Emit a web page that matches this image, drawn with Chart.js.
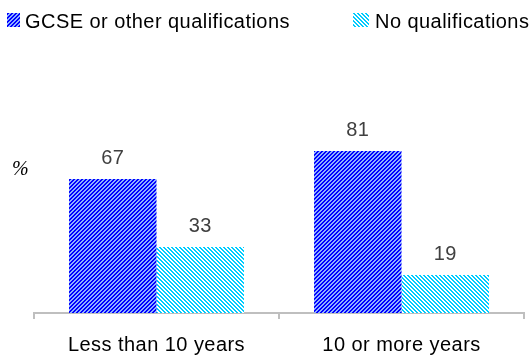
<!DOCTYPE html>
<html>
<head>
<meta charset="utf-8">
<script src="https://cdn.jsdelivr.net/npm/chart.js@4"></script>
<style>
  html, body { margin: 0; padding: 0; background: #fff; }
  #wrap { position: relative; width: 531px; height: 356px; }
  #chart { position: absolute; left: 0; top: 0; }
  .legend-item { position: absolute; top: 11px; font: 20px "Liberation Sans", Arial, sans-serif; line-height: 20px; letter-spacing: 0.45px; color: #000; white-space: nowrap; }
  .legend-item canvas { position: absolute; top: 2px; }
  .legend-item span { position: absolute; top: 0; }
  #unit { position: absolute; left: 12px; top: 157px; font: italic 20px "Liberation Serif", "Times New Roman", serif; color: #000; }
</style>
</head>
<body>
<div id="wrap">
  <canvas id="chart" width="531" height="356"></canvas>
  <div id="legend"></div>
  <div id="unit">%</div>
</div>
<script>
// Share of people by time in the UK, split by qualification level.
const categories = ["Less than 10 years", "10 or more years"];
const seriesNames = ["GCSE or other qualifications", "No qualifications"];
const gcse = [67, 81];
const noQuals = [33, 19];

const FONT = '"Liberation Sans", Arial, sans-serif';

// 4x4 diagonal hatch tile; dir 1 = "///", dir -1 = "\\\"
function hatchTile(fg, bg, dir) {
    const c = document.createElement("canvas");
    c.width = 4;
    c.height = 4;
    const g = c.getContext("2d");
    g.fillStyle = bg;
    g.fillRect(0, 0, 4, 4);
    g.fillStyle = fg;
    for (let y = 0; y < 4; y++) {
        for (let x = 0; x < 4; x++) {
            const k = dir > 0 ? (x + y) % 4 : (((x - y) % 4) + 4) % 4;
            if (k < 2) g.fillRect(x, y, 1, 1);
        }
    }
    return c;
}

const canvas = document.getElementById("chart");
const ctx = canvas.getContext("2d");
const blueTile = hatchTile("#0000ff", "#8fb0ff", 1);
const cyanTile = hatchTile("#00ccff", "#ffffff", -1);
const fills = [ctx.createPattern(blueTile, "repeat"), ctx.createPattern(cyanTile, "repeat")];

// legend row above the plot
const legendSpots = [
    { box: 7, w: 13, text: 25 },
    { box: 353, w: 16, text: 375 },
];
const legend = document.getElementById("legend");
seriesNames.forEach((name, i) => {
    const item = document.createElement("div");
    item.className = "legend-item";
    item.style.left = "0px";
    const sw = document.createElement("canvas");
    sw.width = legendSpots[i].w;
    sw.height = 14;
    sw.style.left = legendSpots[i].box + "px";
    const sg = sw.getContext("2d");
    sg.fillStyle = sg.createPattern(i === 0 ? blueTile : cyanTile, "repeat");
    sg.fillRect(0, 0, sw.width, sw.height);
    const label = document.createElement("span");
    label.style.left = legendSpots[i].text + "px";
    label.textContent = name;
    item.appendChild(sw);
    item.appendChild(label);
    legend.appendChild(item);
});

// slightly loose text spacing for everything drawn on the canvas
const spacing = {
    id: "spacing",
    beforeDraw(chart) {
        chart.ctx.letterSpacing = "0.45px";
    },
};

const valueLabels = {
    id: "valueLabels",
    afterDatasetsDraw(chart) {
        const c = chart.ctx;
        c.save();
        c.font = "20px " + FONT;
        c.fillStyle = "#404040";
        c.textAlign = "center";
        c.textBaseline = "middle";
        chart.data.datasets.forEach((ds, di) => {
            chart.getDatasetMeta(di).data.forEach((bar, i) => {
                c.fillText(String(ds.data[i]), bar.x, bar.y - 21);
            });
        });
        c.restore();
    },
};

new Chart(ctx, {
    type: "bar",
    data: {
        labels: categories,
        datasets: [
            { label: seriesNames[0], data: gcse, backgroundColor: fills[0], borderWidth: 0 },
            { label: seriesNames[1], data: noQuals, backgroundColor: fills[1], borderWidth: 0 },
        ],
    },
    options: {
        responsive: false,
        animation: false,
        events: [],
        categoryPercentage: 0.714,
        barPercentage: 1,
        layout: { padding: { left: 34, right: 7, top: 113, bottom: 0 } },
        plugins: { legend: { display: false }, tooltip: { enabled: false } },
        scales: {
            x: {
                grid: {
                    drawOnChartArea: false,
                    drawTicks: true,
                    tickLength: 6,
                    color: "#bfbfbf",
                    lineWidth: 2,
                },
                border: { display: true, color: "#bfbfbf", width: 2 },
                ticks: { color: "#000", font: { family: FONT, size: 20 }, padding: 14 },
                afterFit(scale) {
                    scale.height = 43;
                },
            },
            y: { display: false, min: 0, max: 100 },
        },
    },
    plugins: [spacing, valueLabels],
});
</script>
</body>
</html>
